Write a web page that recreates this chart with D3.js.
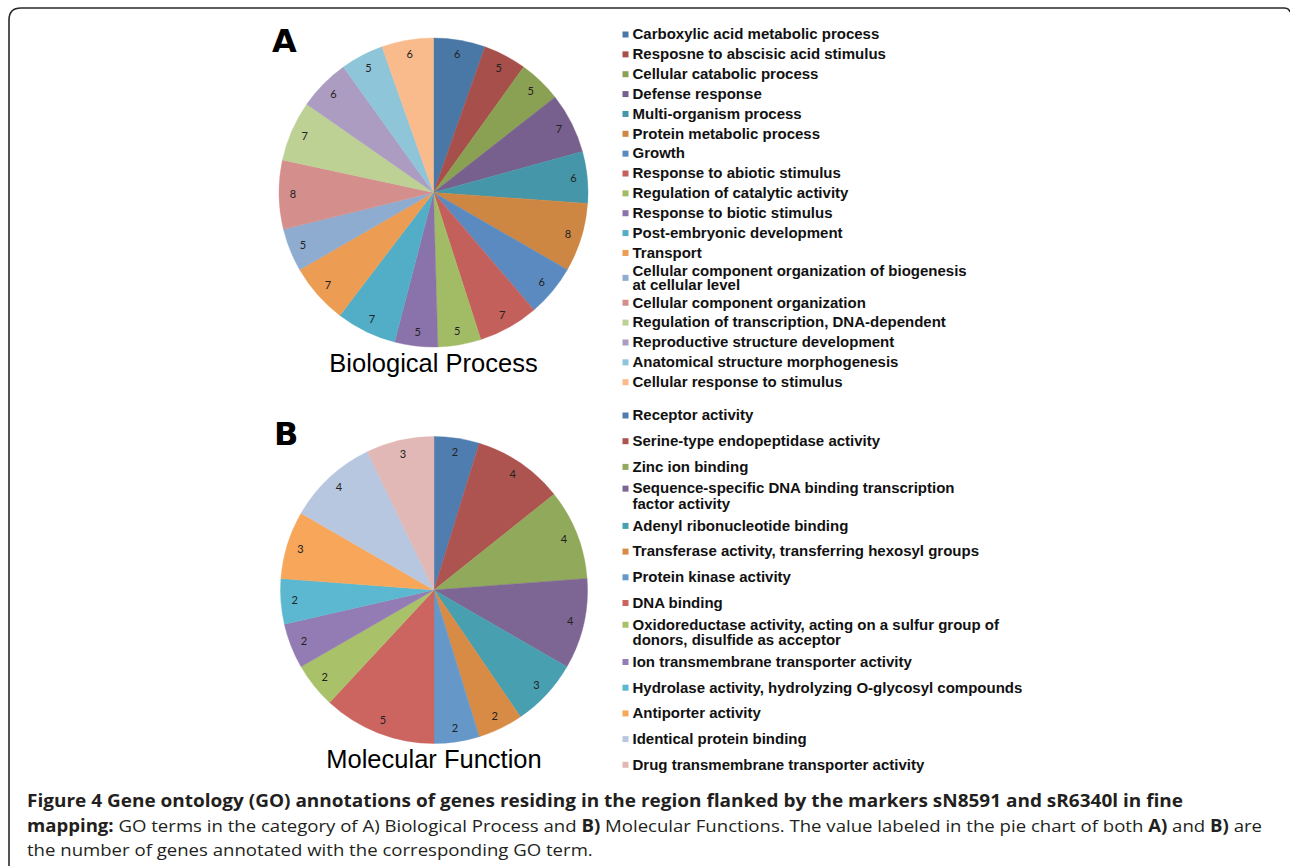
<!DOCTYPE html>
<html><head><meta charset="utf-8">
<script src="https://cdn.jsdelivr.net/npm/d3@7"></script>
<style>
html,body{margin:0;padding:0;background:#fff;}
svg{display:block;}
</style></head>
<body>
<svg id="chart" width="1290" height="866"></svg>
<script>
// ---------- DATA ----------
const bpCategories = [
  "Carboxylic acid metabolic process",
  "Resposne to abscisic acid stimulus",
  "Cellular catabolic process",
  "Defense response",
  "Multi-organism process",
  "Protein metabolic process",
  "Growth",
  "Response to abiotic stimulus",
  "Regulation of catalytic activity",
  "Response to biotic stimulus",
  "Post-embryonic development",
  "Transport",
  "Cellular component organization of biogenesis\nat cellular level",
  "Cellular component organization",
  "Regulation of transcription, DNA-dependent",
  "Reproductive structure development",
  "Anatomical structure morphogenesis",
  "Cellular response to stimulus"
];
const bpValues = [6,5,5,7,6,8,6,7,5,5,7,7,5,8,7,6,5,6];
const bpColors = ["#4A78A6","#A64F4B","#8AA052","#78608E","#4596A8","#CD8742",
                  "#5B8AC0","#C4605B","#A2BC65","#8A72AA","#52AEC6","#EC9D53",
                  "#8EABD0","#D48F8D","#BDD195","#AC9CC1","#8EC5D8","#F9BA8C"];

const mfCategories = [
  "Receptor activity",
  "Serine-type endopeptidase activity",
  "Zinc ion binding",
  "Sequence-specific DNA binding transcription\nfactor activity",
  "Adenyl ribonucleotide binding",
  "Transferase activity, transferring hexosyl groups",
  "Protein kinase activity",
  "DNA binding",
  "Oxidoreductase activity, acting on a sulfur group of\ndonors, disulfide as acceptor",
  "Ion transmembrane transporter activity",
  "Hydrolase activity, hydrolyzing O-glycosyl compounds",
  "Antiporter activity",
  "Identical protein binding",
  "Drug transmembrane transporter activity"
];
const mfValues = [2,4,4,4,3,2,2,5,2,2,2,3,4,3];
const mfColors = ["#4F7DB0","#AE5450","#91A95A","#7E6694","#489FB0","#D78B45",
                  "#6597C8","#CC6560","#A9C26A","#937CB3","#5BB8D0","#F7A65A",
                  "#B8C7E0","#E1B8B6"];

const panelLetters = ["A","B"];
const panelTitles = ["Biological Process","Molecular Function"];

const captionBold1 = "Figure 4 Gene ontology (GO) annotations of genes residing in the region flanked by the markers sN8591 and sR6340l in fine";
const captionLine2 = [["mapping:",true],[" GO terms in the category of A) Biological Process and ",false],["B)",true],[" Molecular Functions. The value labeled in the pie chart of both ",false],["A)",true],[" and ",false],["B)",true],[" are",false]];
const captionLine3 = "the number of genes annotated with the corresponding GO term.";

// ---------- DRAW ----------
const svg = d3.select("#chart");

// frame
svg.append("path")
  .attr("d","M9,866 L9,20 Q9,8 21,8 L1284,8 Q1289,8 1290,12")
  .attr("fill","none").attr("stroke","#2a2a2a").attr("stroke-width",1.6);

function drawPanel(cfg){
  const g = svg.append("g");
  const pie = d3.pie().sort(null).value(d=>d);
  const arcs = pie(cfg.values);
  const arc = d3.arc().innerRadius(0).outerRadius(cfg.r);
  const labelArc = d3.arc().innerRadius(cfg.r*0.91).outerRadius(cfg.r*0.91);
  const pg = g.append("g").attr("transform",`translate(${cfg.cx},${cfg.cy})`);
  pg.selectAll("path.slice").data(arcs).join("path")
    .attr("class","slice")
    .attr("d",arc)
    .attr("fill",(d,i)=>cfg.colors[i])
    .attr("stroke",(d,i)=>cfg.colors[i]).attr("stroke-width",0.4);
  pg.selectAll("text.val").data(arcs).join("text")
    .attr("class","val")
    .attr("transform",d=>`translate(${labelArc.centroid(d)})`)
    .attr("text-anchor","middle").attr("dy","0.35em")
    .attr("font-family","Lato, 'Open Sans', sans-serif").attr("font-size",11)
    .attr("fill","#222")
    .text(d=>d.data);

  // panel letter
  g.append("text").attr("x",cfg.letterX).attr("y",cfg.letterY)
    .attr("font-family","'DejaVu Sans', sans-serif").attr("font-weight","bold")
    .attr("font-size",32).attr("fill","#000")
    .text(cfg.letter);
  // title
  g.append("text").attr("x",cfg.cx).attr("y",cfg.titleY)
    .attr("text-anchor","middle")
    .attr("font-family","'Liberation Sans', Arial, sans-serif").attr("font-size",25.5)
    .attr("fill","#000").text(cfg.title);

  // legend
  const lg = g.append("g");
  let y = cfg.legendY0;
  cfg.categories.forEach((c,i)=>{
    const lines = c.split("\n");
    const multi = lines.length>1;
    const prevMulti = i>0 && cfg.categories[i-1].includes("\n");
    if(i>0){ y += (multi||prevMulti) ? cfg.stepMulti : cfg.step; }
    let lineYs;
    if(multi){ lineYs = [y - cfg.lineGap/2, y + cfg.lineGap/2]; }
    else lineYs = [y];
    const markerY = (multi && cfg.markerFirst) ? lineYs[0] : y;
    lg.append("rect").attr("x",622.5).attr("y",markerY-2.5).attr("width",6).attr("height",6)
      .attr("fill",cfg.colors[i]);
    const t = lg.append("text")
      .attr("font-family","'Liberation Sans', Arial, sans-serif").attr("font-weight","bold")
      .attr("font-size",15).attr("fill","#111");
    lines.forEach((ln,k)=>{
      t.append("tspan").attr("x",632.5).attr("y",lineYs[k]+5.3).text(ln);
    });
  });
}

drawPanel({values:bpValues, colors:bpColors, categories:bpCategories,
  cx:433.5, cy:192.5, r:154.5, letter:panelLetters[0], letterX:272, letterY:52,
  title:panelTitles[0], titleY:371.5,
  legendY0:34, step:19.86, stepMulti:24.9, lineGap:14, markerFirst:false});

drawPanel({values:mfValues, colors:mfColors, categories:mfCategories,
  cx:434, cy:590, r:153.5, letter:panelLetters[1], letterX:274, letterY:445,
  title:panelTitles[1], titleY:768,
  legendY0:415, step:25.7, stepMulti:29.5, lineGap:15.5, markerFirst:true});

// caption
const capFont = "'Open Sans', Lato, sans-serif";
const c1 = svg.append("text").attr("x",27).attr("y",807)
  .attr("font-family",capFont).attr("font-size",17).attr("font-weight","bold").attr("fill","#231f20")
  .text(captionBold1);
c1.attr("textLength",1183-27).attr("lengthAdjust","spacingAndGlyphs");

const c2 = svg.append("text").attr("x",27).attr("y",831.5)
  .attr("font-family",capFont).attr("font-size",17).attr("fill","#231f20");
captionLine2.forEach(([s,b])=>{
  c2.append("tspan").attr("font-weight",b?"bold":"normal").attr("font-family",capFont).text(s);
});
const w2 = c2.node().getComputedTextLength();
const s2 = (1262-27)/w2;
c2.attr("textLength",1262-27).attr("lengthAdjust","spacingAndGlyphs");

const c3 = svg.append("text").attr("x",27).attr("y",856)
  .attr("font-family",capFont).attr("font-size",17).attr("fill","#231f20")
  .text(captionLine3);
const w3 = c3.node().getComputedTextLength();
c3.attr("textLength",w3*s2).attr("lengthAdjust","spacingAndGlyphs");
</script>
</body></html>
